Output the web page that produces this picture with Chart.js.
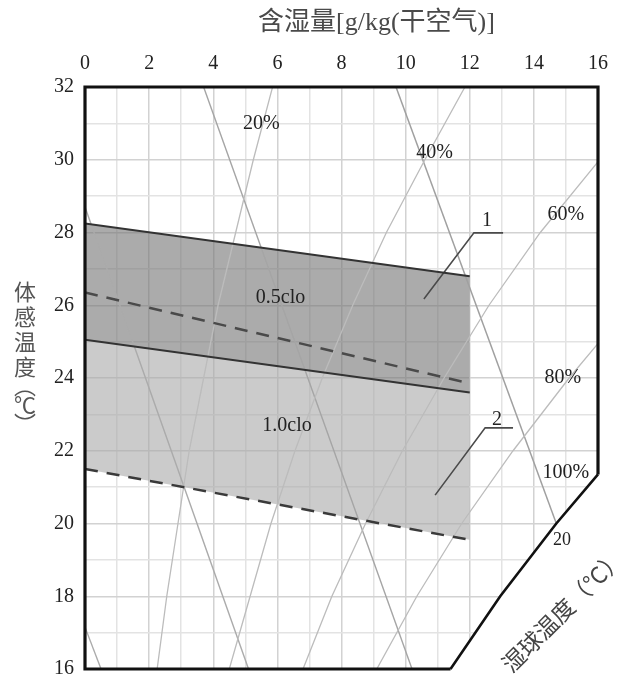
<!DOCTYPE html>
<html><head><meta charset="utf-8">
<script src="https://cdn.jsdelivr.net/npm/chart.js@4.4.1/dist/chart.umd.min.js"></script>
<style>html,body{margin:0;padding:0;background:#fff;}canvas{display:block;}</style>
</head><body>
<canvas id="c" width="621" height="677"></canvas>
<script>
// ---------------- data ----------------
const xTickLabels = ['0','2','4','6','8','10','12','14','16'];
const yTickLabels = ['16','18','20','22','24','26','28','30','32'];
const xTitle = '含湿量[g/kg(干空气)]';
const yTitleChars = ['体','感','温','度','︵','℃','︶'];
const wbTitle = '湿球温度（℃）';
const wbTickLabel = '20';

// comfort bands (x = humidity ratio g/kg, y = operative temperature °C)
const bandX = [0, 12];
const clo05Upper = [28.25, 26.8];
const clo05Mid = [26.35, 23.85];
const clo10Upper = [25.05, 23.6];
const clo10Lower = [21.5, 19.55];
const bandLabels = ['0.5clo', '1.0clo'];
const leaderLabels = ['1', '2'];

// relative humidity curves
const rhTemps = [16, 18, 20, 22, 24, 26, 28, 30, 32];
const rh20 = [2.25, 2.55, 2.9, 3.25, 3.7, 4.15, 4.7, 5.25, 5.85];
const rh40 = [4.5, 5.15, 5.8, 6.55, 7.4, 8.35, 9.4, 10.6, 11.85];
const rh60 = [6.8, 7.7, 8.75, 9.9, 11.2, 12.6, 14.2, 16.05];
const rh80 = [9.1, 10.35, 11.75, 13.35, 15.1, 17.0];
const rhLabels = ['20%', '40%', '60%', '80%', '100%'];
// saturation (100%) curve
const satTemps = [16, 18, 20, 21.35];
const satW = [11.4, 12.95, 14.7, 16];

// wet-bulb lines
const wbA_W = [0, 0.5],   wbA_T = [17.15, 16];
const wbB_W = [0, 5.1],   wbB_T = [28.7, 16];
const wbC_W = [3.7, 10.2], wbC_T = [32, 16];
const wbD_W = [9.7, 14.7], wbD_T = [32, 20];

// leader lines for labels 1 and 2
const leader1W = [10.57, 12.13, 13.04], leader1T = [26.17, 27.99, 27.99];
const leader2W = [10.92, 12.48, 13.35], leader2T = [20.78, 22.63, 22.63];

// ---------------- helpers ----------------
const pts = (xs, ys) => xs.map((v, i) => ({x: v, y: ys[i]}));
const SERIF = "'Liberation Serif','DejaVu Serif',serif";
const MIX = "'Liberation Serif','Noto Sans CJK SC',serif";
const CJK = "'Noto Sans CJK SC',sans-serif";

const thin = (data, color, w) => ({data, showLine: true, pointRadius: 0, borderColor: color, borderWidth: w, fill: false, order: 2});

const datasets = [
  {data: pts(bandX, clo05Upper), showLine: true, pointRadius: 0, borderColor: '#333', borderWidth: 2,
   fill: {target: 2}, backgroundColor: 'rgba(115,115,115,0.6)', order: 0},
  {data: pts(bandX, clo05Mid), showLine: true, pointRadius: 0, borderColor: '#4a4a4a', borderWidth: 2.5,
   borderDash: [13, 9], fill: false, order: 0},
  {data: pts(bandX, clo10Upper), showLine: true, pointRadius: 0, borderColor: '#333', borderWidth: 2,
   fill: {target: 3}, backgroundColor: 'rgba(168,168,168,0.6)', order: 0},
  {data: pts(bandX, clo10Lower), showLine: true, pointRadius: 0, borderColor: '#3a3a3a', borderWidth: 2.5,
   borderDash: [13, 9], fill: false, order: 0},
  thin(pts(rh20, rhTemps), '#bcbcbc', 1.3),
  thin(pts(rh40, rhTemps), '#bcbcbc', 1.3),
  thin(pts(rh60, rhTemps), '#bcbcbc', 1.3),
  thin(pts(rh80, rhTemps), '#bcbcbc', 1.3),
  thin(pts(wbA_W, wbA_T), '#ababab', 1.4),
  thin(pts(wbB_W, wbB_T), '#ababab', 1.4),
  thin(pts(wbC_W, wbC_T), '#a5a5a5', 1.4),
  thin(pts(wbD_W, wbD_T), '#a0a0a0', 1.5),
  {data: pts(satW, satTemps), showLine: true, pointRadius: 0, borderColor: '#111', borderWidth: 2.6, fill: false, order: 0, clip: false},
  {data: pts(leader1W, leader1T), showLine: true, pointRadius: 0, borderColor: '#4a4a4a', borderWidth: 1.6, fill: false, order: 0},
  {data: pts(leader2W, leader2T), showLine: true, pointRadius: 0, borderColor: '#4a4a4a', borderWidth: 1.6, fill: false, order: 0}
];

// label placements (data coordinates)
const placements = {
  rh: [[5.5, 31.0], [10.9, 30.2], [15.0, 28.5], [14.9, 24.0], [15.0, 21.4]],
  band: [[6.1, 26.2], [6.3, 22.7]],
  leader: [[12.54, 28.31], [12.85, 22.84]],
  wbTick: [14.88, 19.55],
  wbTitle: [14.9, 17.6]
};

function drawText(ctx, s, px, py, font, color, rot) {
  ctx.save();
  ctx.translate(px, py);
  if (rot) ctx.rotate(rot);
  ctx.font = font; ctx.fillStyle = color;
  ctx.textAlign = 'center'; ctx.textBaseline = 'middle';
  ctx.fillText(s, 0, 0);
  ctx.restore();
}

const psychroPlugin = {
  id: 'psychro',
  beforeDatasetsDraw(chart) {
    const {ctx, chartArea: a, scales: {x, y}} = chart;
    ctx.save();
    ctx.fillStyle = '#fff';
    ctx.beginPath();
    ctx.moveTo(x.getPixelForValue(satW[0]), a.bottom + 4);
    for (let i = 0; i < satW.length; i++) ctx.lineTo(x.getPixelForValue(satW[i]) + 1, y.getPixelForValue(satTemps[i]));
    const last = satTemps.length - 1;
    ctx.lineTo(a.right + 4, y.getPixelForValue(satTemps[last]));
    ctx.lineTo(a.right + 4, a.bottom + 4);
    ctx.closePath();
    ctx.fill();
    ctx.restore();
  },
  afterDatasetsDraw(chart) {
    const {ctx, chartArea: a, scales: {x, y}} = chart;
    const last = satTemps.length - 1;
    ctx.save();
    ctx.strokeStyle = '#111';
    ctx.lineWidth = 3.2;
    ctx.lineJoin = 'miter';
    ctx.beginPath();
    ctx.moveTo(a.right, y.getPixelForValue(satTemps[last]));
    ctx.lineTo(a.right, a.top);
    ctx.lineTo(a.left, a.top);
    ctx.lineTo(a.left, a.bottom);
    ctx.lineTo(x.getPixelForValue(satW[0]), a.bottom);
    ctx.stroke();
    ctx.restore();
  },
  afterDraw(chart) {
    const {ctx, chartArea: a, scales: {x, y}} = chart;
    const P = (p) => [x.getPixelForValue(p[0]), y.getPixelForValue(p[1])];
    drawText(ctx, xTitle, (a.left + a.right) / 2 + 35, 23, '26px ' + MIX, '#4a4a4a');
    const yPos = [292, 317, 342, 367, 386, 405, 424];
    yTitleChars.forEach((c, i) => drawText(ctx, c, 25, yPos[i], '22px ' + CJK, '#555'));
    rhLabels.forEach((s, i) => { const [px, py] = P(placements.rh[i]); drawText(ctx, s, px, py, '20px ' + SERIF, '#222'); });
    bandLabels.forEach((s, i) => { const [px, py] = P(placements.band[i]); drawText(ctx, s, px, py, '20px ' + SERIF, '#222'); });
    leaderLabels.forEach((s, i) => { const [px, py] = P(placements.leader[i]); drawText(ctx, s, px, py, '20px ' + SERIF, '#222'); });
    let [px, py] = P(placements.wbTick);
    drawText(ctx, wbTickLabel, px, py, '18px ' + SERIF, '#222');
    [px, py] = P(placements.wbTitle);
    drawText(ctx, wbTitle, px, py, '23px ' + CJK, '#444', -Math.PI / 4);
  }
};

const gridColor = (c) => (c.tick && Math.round(c.tick.value) % 2 === 0) ? '#d2d2d2' : '#e3e3e3';

new Chart(document.getElementById('c'), {
  type: 'scatter',
  data: {datasets},
  options: {
    responsive: false,
    animation: false,
    devicePixelRatio: 1,
    layout: {padding: {left: 0, right: 23, top: 0, bottom: 8}},
    plugins: {legend: {display: false}, tooltip: {enabled: false}, filler: {drawTime: 'beforeDatasetsDraw'}},
    scales: {
      x: {
        type: 'linear', position: 'top', min: 0, max: 16,
        border: {display: false},
        grid: {color: gridColor, lineWidth: 1.5, drawTicks: false},
        ticks: {stepSize: 1, autoSkip: false, maxRotation: 0, padding: 11, color: '#222',
          font: {family: SERIF, size: 20},
          callback: (v) => (v % 2 === 0 ? xTickLabels[v / 2] : '')},
        afterFit: (s) => { s.height = 87; s.paddingLeft = 0; s.paddingRight = 0; }
      },
      y: {
        type: 'linear', min: 16, max: 32,
        border: {display: false},
        grid: {color: gridColor, lineWidth: 1.5, drawTicks: false},
        ticks: {stepSize: 1, autoSkip: false, padding: 11, color: '#222',
          font: {family: SERIF, size: 20},
          callback: (v) => (v % 2 === 0 ? yTickLabels[(v - 16) / 2] : '')},
        afterFit: (s) => { s.width = 85; s.paddingTop = 0; s.paddingBottom = 0; }
      }
    }
  },
  plugins: [psychroPlugin]
});
</script>
</body></html>
